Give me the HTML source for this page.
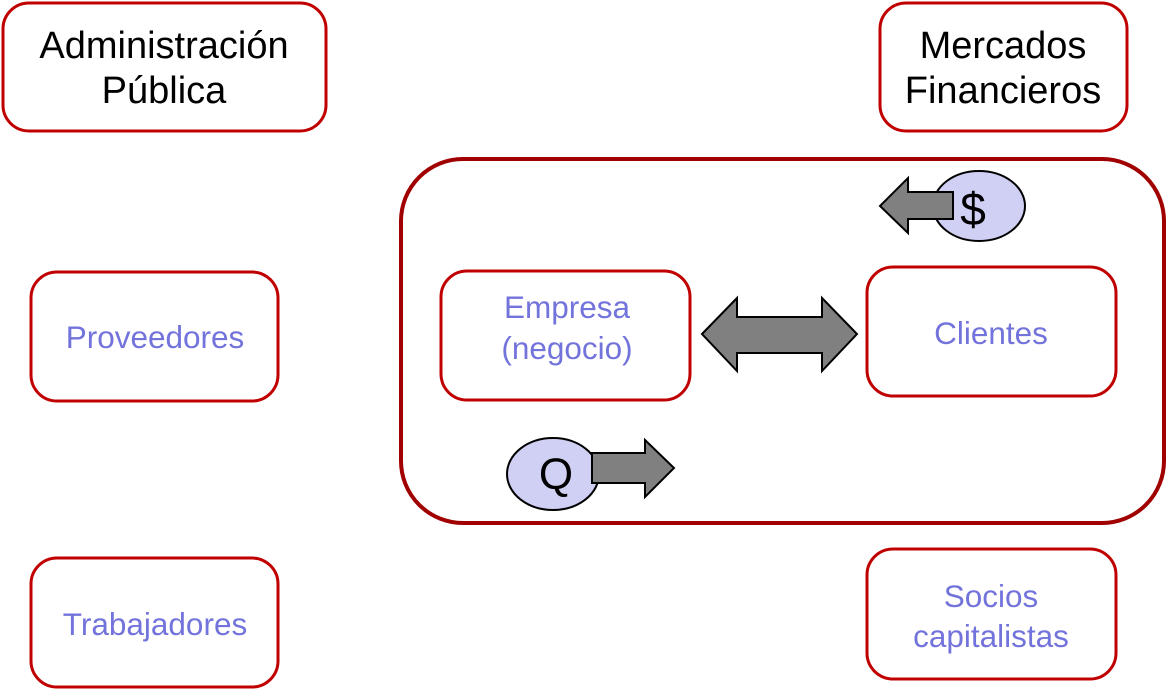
<!DOCTYPE html>
<html><head><meta charset="utf-8"><style>
html,body{margin:0;padding:0;background:#fff;width:1168px;height:690px;overflow:hidden}
svg{display:block}
text{font-family:"Liberation Sans",sans-serif;text-anchor:middle}
.k{fill:#000;font-size:38px}
.b{fill:#7373dc;font-size:31.5px}
.box{fill:#fff;stroke:#c00000;stroke-width:3}
.ar{fill:#808080;stroke:#000;stroke-width:2;stroke-linejoin:miter}
.el{fill:#d0d0f4;stroke:#000;stroke-width:2}
</style></head><body>
<svg width="1168" height="690" viewBox="0 0 1168 690">
<rect class="box" x="3" y="3" width="323" height="128" rx="26"/>
<text class="k" x="164" y="58">Administración</text>
<text class="k" x="164" y="103">Pública</text>
<rect class="box" x="880" y="3" width="247" height="128" rx="26"/>
<text class="k" x="1003" y="58">Mercados</text>
<text class="k" x="1003" y="103">Financieros</text>
<rect x="401" y="159" width="763" height="364" rx="62" fill="#fff" stroke="#a00000" stroke-width="4"/>
<rect class="box" x="31" y="272" width="247" height="129" rx="26"/>
<text class="b" x="155" y="348">Proveedores</text>
<rect class="box" x="441" y="271" width="249" height="129" rx="26"/>
<text class="b" x="567" y="318">Empresa</text>
<text class="b" x="567" y="359">(negocio)</text>
<rect class="box" x="867" y="267" width="249" height="129" rx="26"/>
<text class="b" x="991" y="344">Clientes</text>
<rect class="box" x="31" y="558" width="247" height="129" rx="26"/>
<text class="b" x="155" y="635">Trabajadores</text>
<rect class="box" x="867" y="549" width="249" height="130" rx="26"/>
<text class="b" x="991" y="607">Socios</text>
<text class="b" x="991" y="647">capitalistas</text>
<polygon class="ar" points="702,334 737,298 737,317 822,317 822,298 857,334 822,371 822,353 737,353 737,371"/>
<ellipse class="el" cx="979" cy="206" rx="46" ry="35"/>
<polygon class="ar" points="880,206 908,178 908,192 953,192 953,219 908,219 908,233"/>
<text x="973" y="225" style="font-size:46px;fill:#000">$</text>
<ellipse class="el" cx="553" cy="474" rx="46" ry="36"/>
<text x="556" y="489" style="font-size:44px;fill:#000">Q</text>
<polygon class="ar" points="592,453 645,453 645,440 674,468 645,497 645,483 592,483"/>
</svg>
</body></html>
